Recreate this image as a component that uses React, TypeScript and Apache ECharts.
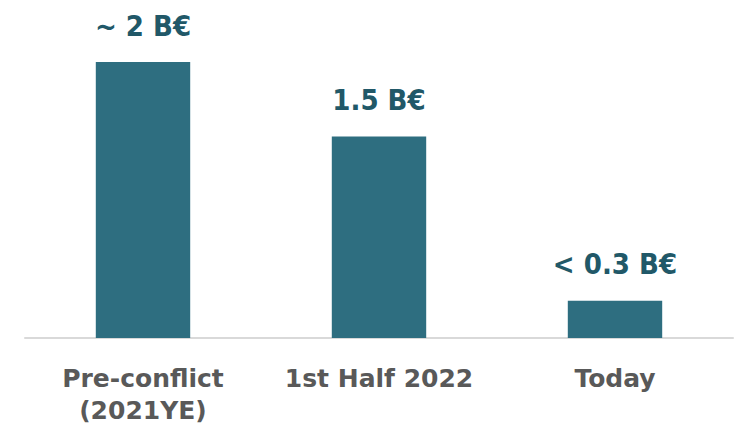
import React, { useEffect, useRef } from "react";
import * as echarts from "echarts";

const categories = ["Pre-conflict\n(2021YE)", "1st Half 2022", "Today"];
const values = [2.0, 1.46, 0.27];
const valueLabels = ["~ 2 B€", "1.5 B€", "< 0.3 B€"];

export default function App() {
  const ref = useRef<HTMLDivElement>(null);
  useEffect(() => {
    if (!ref.current) return;
    const chart = echarts.init(ref.current, null, { renderer: "svg" });
    chart.setOption({
      animation: false,
      grid: { left: 25, right: 6, top: 62, bottom: 95 },
      xAxis: {
        type: "category",
        data: categories,
        axisLine: { show: true, lineStyle: { color: "#D9D9D9", width: 2 } },
        axisTick: { show: false },
        axisLabel: {
          interval: 0,
          hideOverlap: false,
          color: "#595959",
          fontFamily: "DejaVu Sans",
          fontWeight: "bold",
          fontSize: 25,
          lineHeight: 32,
          margin: 24,
        },
      },
      yAxis: {
        type: "value",
        min: 0,
        max: 2,
        show: false,
        splitLine: { show: false },
      },
      series: [
        {
          type: "bar",
          data: values,
          barWidth: "40%",
          itemStyle: { color: "#2E6E80" },
          label: {
            show: true,
            position: "top",
            distance: 22,
            formatter: (p: any) => valueLabels[p.dataIndex],
            color: "#215868",
            fontFamily: "DejaVu Sans Condensed",
            fontWeight: "bold",
            fontSize: 29,
          },
        },
      ],
    });
    return () => chart.dispose();
  }, []);
  return (
    <div
      ref={ref}
      style={{ position: "absolute", left: 0, top: 0, width: 739, height: 433 }}
    />
  );
}
